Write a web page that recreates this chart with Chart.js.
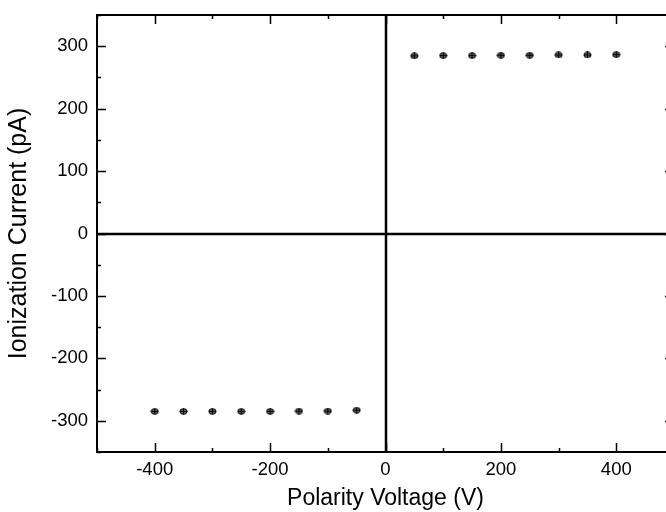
<!DOCTYPE html>
<html>
<head>
<meta charset="utf-8">
<script src="https://cdn.jsdelivr.net/npm/chart.js@4"></script>
<style>
  html, body { margin: 0; padding: 0; background: #fff; overflow: hidden; }
  canvas { position: absolute; left: 0; top: 0; }
</style>
</head>
<body>
<canvas id="mycanvas" width="680" height="512"></canvas>
<script>
// data
var voltagePos = [50, 100, 150, 200, 250, 300, 350, 400];
var currentPos = [284.5, 285, 285, 285.5, 285.5, 286, 286, 286.5];
var voltageNeg = [-400, -350, -300, -250, -200, -150, -100, -50];
var currentNeg = [-285, -285, -285, -285, -285, -284.5, -284.5, -283];

var xTicks = [-400, -200, 0, 200, 400];
var yTicks = [-300, -200, -100, 0, 100, 200, 300];
var xMinor = [-500, -300, -100, 100, 300, 500];
var yMinor = [-350, -250, -150, -50, 50, 150, 250, 350];

var pts = [];
for (var i in voltageNeg) pts.push({x: voltageNeg[i], y: currentNeg[i]});
for (var i in voltagePos) pts.push({x: voltagePos[i], y: currentPos[i]});

// marker: small circle with a cross
var mk = document.createElement('canvas');
mk.width = 9; mk.height = 7;
var m = mk.getContext('2d');
m.fillStyle = '#666';
m.strokeStyle = '#000';
m.lineWidth = 1;
m.beginPath();
m.ellipse(4.5, 3.5, 3.6, 2.8, 0, 0, Math.PI * 2);
m.fill(); m.stroke();
m.beginPath();
m.moveTo(4.5, 0.5); m.lineTo(4.5, 6.5);
m.moveTo(1, 3.5); m.lineTo(8, 3.5);
m.stroke();

var frame = {
  id: 'frame',
  afterDraw: function(chart) {
    var c = chart.ctx, a = chart.chartArea;
    var sx = chart.scales.x, sy = chart.scales.y;
    c.save();
    c.strokeStyle = '#000';
    // zero lines
    c.lineWidth = 2.5;
    c.beginPath();
    var x0 = Math.round(sx.getPixelForValue(0)), y0 = Math.round(sy.getPixelForValue(0));
    c.moveTo(x0, a.top); c.lineTo(x0, a.bottom);
    c.moveTo(a.left, y0); c.lineTo(a.right, y0);
    c.stroke();
    // box
    c.lineWidth = 2;
    c.strokeRect(a.left, a.top, a.right - a.left, a.bottom - a.top);
    // ticks, pointing inward
    c.lineWidth = 1.5;
    c.beginPath();
    function xt(v, len) {
      var p = Math.round(sx.getPixelForValue(v)) + 0.5;
      c.moveTo(p, a.bottom); c.lineTo(p, a.bottom - len);
      c.moveTo(p, a.top); c.lineTo(p, a.top + len);
    }
    function yt(v, len) {
      var p = Math.round(sy.getPixelForValue(v)) + 0.5;
      c.moveTo(a.left, p); c.lineTo(a.left + len, p);
      c.moveTo(a.right, p); c.lineTo(a.right - len, p);
    }
    xTicks.forEach(function(v){ xt(v, 9); });
    xMinor.forEach(function(v){ xt(v, 4); });
    yTicks.forEach(function(v){ yt(v, 9); });
    yMinor.forEach(function(v){ yt(v, 4); });
    c.stroke();
    c.restore();
  }
};

var ctx = document.getElementById('mycanvas');
var chart = new Chart(ctx, {
  type: 'scatter',
  data: {
    datasets: [{
      data: pts,
      pointStyle: mk,
      pointRadius: 4,
      showLine: false
    }]
  },
  options: {
    responsive: false,
    animation: false,
    devicePixelRatio: 1,
    layout: { padding: { top: 15, right: 6, left: 0, bottom: 0 } },
    plugins: { legend: { display: false }, tooltip: { enabled: false } },
    scales: {
      x: {
        type: 'linear', min: -500, max: 500,
        afterBuildTicks: function(s){ s.ticks = xTicks.map(function(v){ return {value: v}; }); },
        afterFit: function(s){ s.height = 60; s.paddingLeft = 0; s.paddingRight = 0; },
        grid: { display: false, drawTicks: false },
        border: { display: false },
        ticks: { color: '#000', padding: 7, maxRotation: 0, font: { family: 'Liberation Sans', size: 18.5 } },
        title: { display: true, text: 'Polarity Voltage (V)', color: '#000', padding: { top: 2, bottom: 0 },
                 font: { family: 'Liberation Sans', size: 23 } }
      },
      y: {
        type: 'linear', min: -350, max: 350,
        afterBuildTicks: function(s){ s.ticks = yTicks.map(function(v){ return {value: v}; }); },
        afterFit: function(s){ s.width = 97; s.paddingTop = 0; s.paddingBottom = 0; },
        grid: { display: false, drawTicks: false },
        border: { display: false },
        ticks: { color: '#000', padding: 9, font: { family: 'Liberation Sans', size: 18.5 } },
        title: { display: true, text: 'Ionization Current (pA)', color: '#000', padding: { top: 4, bottom: 0 },
                 font: { family: 'Liberation Sans', size: 25 } }
      }
    }
  },
  plugins: [frame]
});
</script>
</body>
</html>
